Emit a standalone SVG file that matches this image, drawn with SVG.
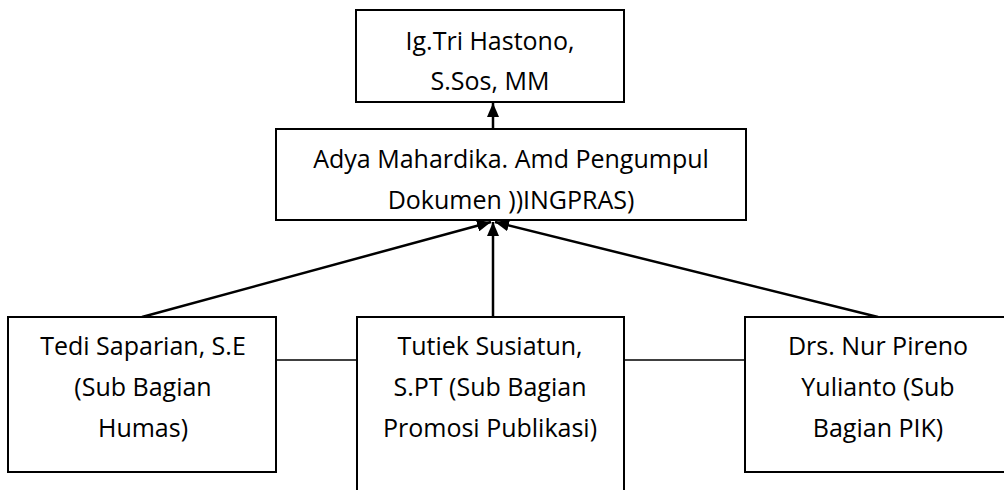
<svg xmlns="http://www.w3.org/2000/svg" width="1004" height="490" viewBox="0 0 1004 490">
<style>
.box{fill:#fff;stroke:#000;stroke-width:2}
.t{font-family:"Open Sans","Liberation Sans",sans-serif;font-size:25px;fill:#000;text-anchor:middle}
.c{stroke:#000;stroke-width:2.5;fill:none}
.h{stroke:#000;stroke-width:1.5;fill:none}
</style>
<defs>
<marker id="ah" viewBox="0 0 14 12" refX="14" refY="6" markerWidth="14" markerHeight="12" markerUnits="userSpaceOnUse" orient="auto">
<path d="M0,0 L14,6 L0,12 Z" fill="#000"/>
</marker>
</defs>
<g id="connectors">
<line class="c" x1="493" y1="128" x2="493" y2="103" marker-end="url(#ah)"/>
<line class="c" x1="142" y1="317" x2="491" y2="222" marker-end="url(#ah)"/>
<line class="c" x1="493" y1="317" x2="493" y2="222" marker-end="url(#ah)"/>
<line class="c" x1="878" y1="317" x2="495" y2="222" marker-end="url(#ah)"/>
<line class="h" x1="276" y1="360" x2="357" y2="360"/>
<line class="h" x1="624" y1="360" x2="745" y2="360"/>
</g>
<g id="n1">
<rect class="box" x="356" y="10" width="268" height="92"/>
<text class="t" x="490" y="50">Ig.Tri Hastono,</text>
<text class="t" x="490" y="90">S.Sos, MM</text>
</g>
<g id="n2">
<rect class="box" x="276" y="129" width="470" height="91"/>
<text class="t" x="511" y="168">Adya Mahardika. Amd Pengumpul</text>
<text class="t" x="511" y="209">Dokumen ))INGPRAS)</text>
</g>
<g id="n3">
<rect class="box" x="8" y="317" width="268" height="155"/>
<text class="t" x="143" y="355">Tedi Saparian, S.E</text>
<text class="t" x="143" y="396">(Sub Bagian</text>
<text class="t" x="143" y="437">Humas)</text>
</g>
<g id="n4">
<rect class="box" x="357" y="317" width="267" height="200"/>
<text class="t" x="490" y="355">Tutiek Susiatun,</text>
<text class="t" x="490" y="396">S.PT (Sub Bagian</text>
<text class="t" x="490" y="437">Promosi Publikasi)</text>
</g>
<g id="n5">
<rect class="box" x="745" y="317" width="268" height="155"/>
<text class="t" x="878" y="355">Drs. Nur Pireno</text>
<text class="t" x="878" y="396">Yulianto (Sub</text>
<text class="t" x="878" y="437">Bagian PIK)</text>
</g>
</svg>
